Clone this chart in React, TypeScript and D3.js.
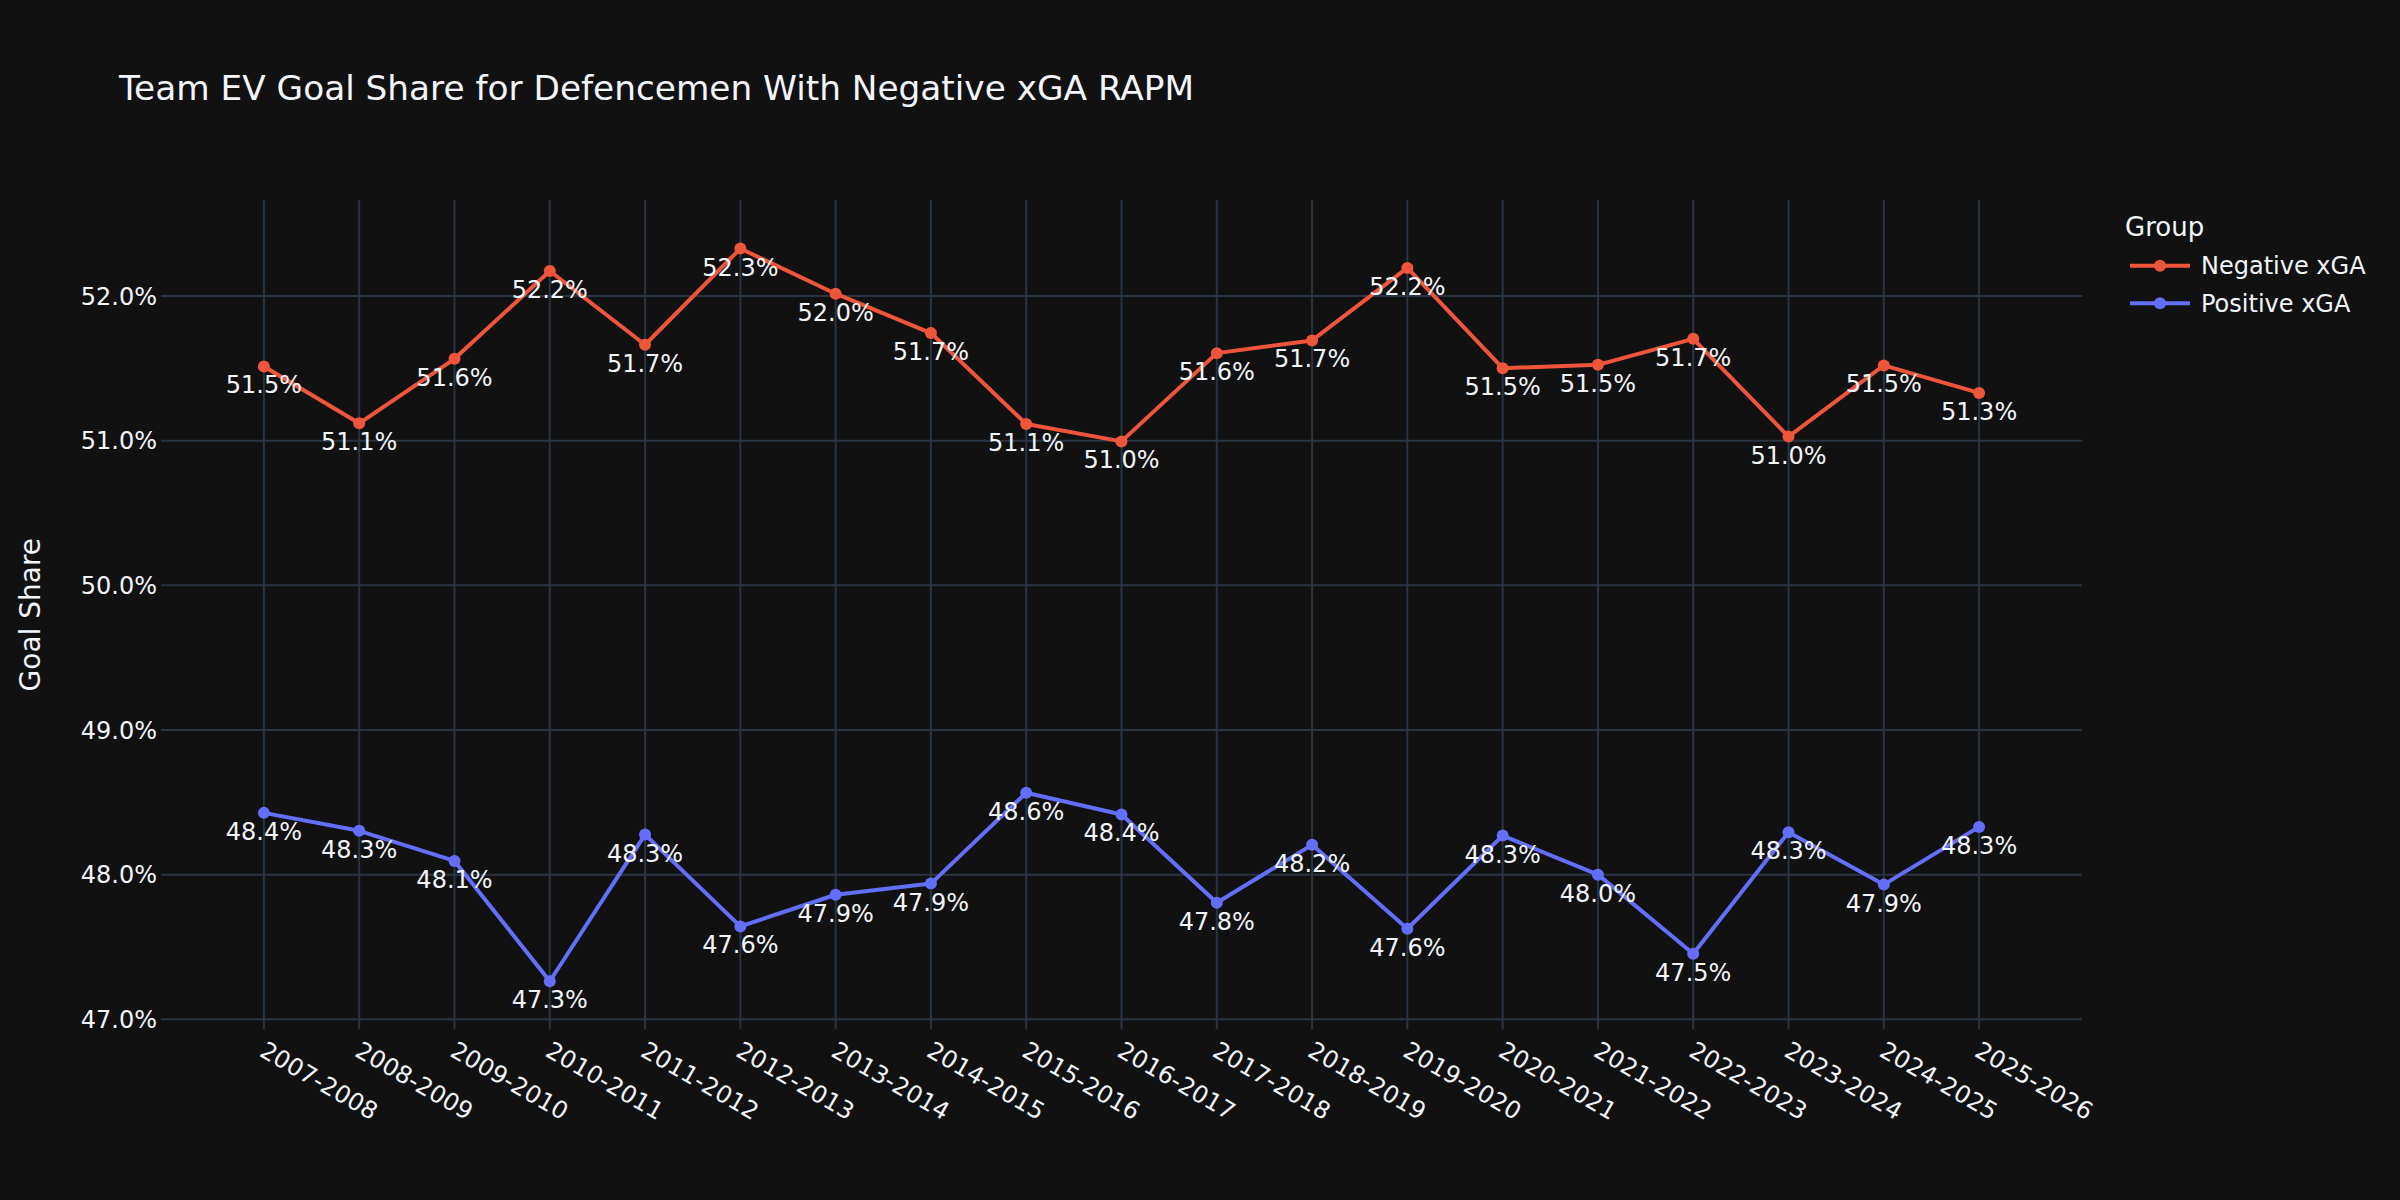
import React, { useEffect, useRef } from "react";
import * as d3 from "d3";

const seasons = [
  "2007-2008",
  "2008-2009",
  "2009-2010",
  "2010-2011",
  "2011-2012",
  "2012-2013",
  "2013-2014",
  "2014-2015",
  "2015-2016",
  "2016-2017",
  "2017-2018",
  "2018-2019",
  "2019-2020",
  "2020-2021",
  "2021-2022",
  "2022-2023",
  "2023-2024",
  "2024-2025",
  "2025-2026",
];

const negativeXga = [
  51.513, 51.12, 51.566, 52.173, 51.663, 52.328, 52.016, 51.744, 51.115, 50.995,
  51.605, 51.693, 52.194, 51.501, 51.524, 51.704, 51.028, 51.52, 51.33,
];

const positiveXga = [
  48.427, 48.303, 48.095, 47.263, 48.277, 47.642, 47.861, 47.938, 48.566, 48.416,
  47.806, 48.206, 47.626, 48.27, 48.0, 47.453, 48.293, 47.931, 48.33,
];

const yTicks = [47, 48, 49, 50, 51, 52];

const groups = [
  { name: "Negative xGA", values: negativeXga, color: "#EF553B" },
  { name: "Positive xGA", values: positiveXga, color: "#636efa" },
];

const chartTitle = "Team EV Goal Share for Defencemen With Negative xGA RAPM";
const yTitle = "Goal Share";
const legendTitle = "Group";

const W = 2400;
const H = 1200;
const FONT = "'DejaVu Sans', Verdana, sans-serif";
const TEXT = "#f2f5fa";
const GRID = "#283442";

export default function App() {
  const svgRef = useRef<SVGSVGElement>(null);

  useEffect(() => {
    if (!svgRef.current) return;
    const svg = d3.select(svgRef.current);
    svg.selectAll("*").remove();

    const plot = { left: 161, right: 2082, top: 200, bottom: 1029.3 };

    const x = d3
      .scalePoint<string>()
      .domain(seasons)
      .range([plot.left, plot.right])
      .padding(1.08);

    // 47% sits at 1019.3 and 52% at 296
    const perPct = (1019.3 - 296) / 5;
    const y = d3
      .scaleLinear()
      .domain([47 - (plot.bottom - 1019.3) / perPct, 52 + (296 - plot.top) / perPct])
      .range([plot.bottom, plot.top]);

    svg
      .append("rect")
      .attr("width", W)
      .attr("height", H)
      .attr("fill", "#111111");

    // grid
    svg
      .append("g")
      .selectAll("line")
      .data(seasons)
      .enter()
      .append("line")
      .attr("x1", (d) => x(d)!)
      .attr("x2", (d) => x(d)!)
      .attr("y1", plot.top)
      .attr("y2", plot.bottom)
      .attr("stroke", GRID)
      .attr("stroke-width", 2);

    svg
      .append("g")
      .selectAll("line")
      .data(yTicks)
      .enter()
      .append("line")
      .attr("x1", plot.left)
      .attr("x2", plot.right)
      .attr("y1", (d) => y(d))
      .attr("y2", (d) => y(d))
      .attr("stroke", GRID)
      .attr("stroke-width", 2);

    // y tick labels
    svg
      .append("g")
      .selectAll("text")
      .data(yTicks)
      .enter()
      .append("text")
      .attr("x", 157)
      .attr("y", (d) => y(d))
      .attr("dy", "0.36em")
      .attr("text-anchor", "end")
      .attr("font-family", FONT)
      .attr("font-size", 24)
      .attr("fill", TEXT)
      .text((d) => d3.format(".1f")(d) + "%");

    // x tick labels, rotated 30deg
    svg
      .append("g")
      .selectAll("text")
      .data(seasons)
      .enter()
      .append("text")
      .attr("transform", (d) => `translate(${x(d)! + 3},1040) rotate(30)`)
      .attr("dy", "0.73em")
      .attr("text-anchor", "start")
      .attr("font-family", FONT)
      .attr("font-size", 24)
      .attr("fill", TEXT)
      .text((d) => d);

    // series
    const line = d3
      .line<number>()
      .x((d, i) => x(seasons[i])!)
      .y((d) => y(d));

    groups.forEach((g) => {
      const layer = svg.append("g");
      layer
        .append("path")
        .datum(g.values)
        .attr("fill", "none")
        .attr("stroke", g.color)
        .attr("stroke-width", 4)
        .attr("stroke-linejoin", "round")
        .attr("d", line);

      layer
        .selectAll("circle")
        .data(g.values)
        .enter()
        .append("circle")
        .attr("cx", (d, i) => x(seasons[i])!)
        .attr("cy", (d) => y(d))
        .attr("r", 6)
        .attr("fill", g.color);

      layer
        .selectAll("text")
        .data(g.values)
        .enter()
        .append("text")
        .attr("x", (d, i) => x(seasons[i])!)
        .attr("y", (d) => y(d) + 27)
        .attr("text-anchor", "middle")
        .attr("font-family", FONT)
        .attr("font-size", 24)
        .attr("fill", TEXT)
        .text((d) => d3.format(".1f")(d) + "%");
    });

    // title
    svg
      .append("text")
      .attr("x", 119)
      .attr("y", 100)
      .attr("font-family", FONT)
      .attr("font-size", 34.3)
      .attr("fill", TEXT)
      .text(chartTitle);

    // y axis title
    svg
      .append("text")
      .attr("transform", `translate(30,${(plot.top + plot.bottom) / 2}) rotate(-90)`)
      .attr("dy", "0.36em")
      .attr("text-anchor", "middle")
      .attr("font-family", FONT)
      .attr("font-size", 28)
      .attr("fill", TEXT)
      .text(yTitle);

    // legend
    const legend = svg.append("g").attr("transform", "translate(2125,0)");
    legend
      .append("text")
      .attr("x", 0)
      .attr("y", 236)
      .attr("font-family", FONT)
      .attr("font-size", 26)
      .attr("fill", TEXT)
      .text(legendTitle);

    groups.forEach((g, i) => {
      const row = legend
        .append("g")
        .attr("transform", `translate(0,${265.7 + i * 37.6})`);
      row
        .append("line")
        .attr("x1", 5)
        .attr("x2", 65)
        .attr("stroke", g.color)
        .attr("stroke-width", 4);
      row.append("circle").attr("cx", 35).attr("r", 6).attr("fill", g.color);
      row
        .append("text")
        .attr("x", 76)
        .attr("dy", "0.36em")
        .attr("font-family", FONT)
        .attr("font-size", 24)
        .attr("fill", TEXT)
        .text(g.name);
    });
  }, []);

  return (
    <svg
      ref={svgRef}
      width={W}
      height={H}
      style={{ position: "absolute", left: 0, top: 0, display: "block" }}
    />
  );
}
